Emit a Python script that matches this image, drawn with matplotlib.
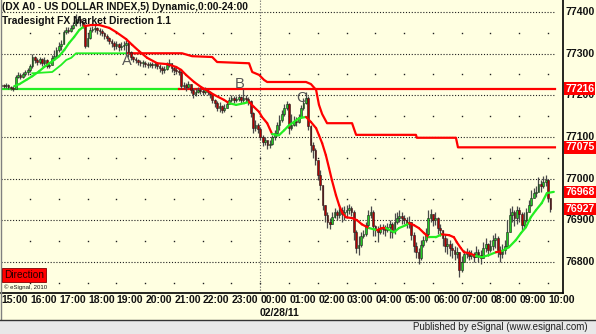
import matplotlib
matplotlib.use("Agg")
import matplotlib.pyplot as plt
import matplotlib.transforms as mtrans
import numpy as np

# ---------------- data (5-minute bars of DX A0 from 15:00) ----------------
first_open = 77222
closes = [
    77225,77222,77225,77220,77217,77215,77244,77249,77244,77251,77256,77261,
    77270,77292,77285,77280,77287,77277,77285,77270,77273,77290,77294,77309,
    77318,77323,77352,77357,77354,77362,77369,77381,77383,77376,77366,77318,
    77338,77357,77359,77362,77357,77354,77350,77342,77338,77330,77326,77318,
    77323,77316,77318,77321,77326,77304,77292,77287,77285,77280,77277,77277,
    77275,77273,77275,77273,77275,77270,77265,77261,77263,77273,77277,77265,
    77261,77258,77256,77222,77225,77220,77227,77213,77203,77208,77213,77210,
    77208,77213,77208,77203,77189,77181,77169,77174,77165,77169,77179,77189,
    77193,77189,77191,77196,77189,77193,77191,77186,77157,77121,77128,77119,
    77100,77088,77092,77080,77083,77100,77109,77128,77140,77155,77169,77179,
    77121,77128,77138,77136,77148,77169,77181,77193,77126,77080,77068,77044,
    77008,76984,76936,76912,76895,76890,76907,76919,76912,76924,76914,76919,
    76924,76929,76919,76871,76833,76840,76862,76866,76888,76912,76919,76886,
    76876,76871,76878,76881,76876,76883,76890,76871,76895,76905,76910,76905,
    76900,76890,76895,76864,76838,76823,76809,76840,76852,76866,76905,76914,
    76900,76905,76881,76876,76857,76838,76842,76833,76828,76818,76823,76780,
    76799,76818,76823,76814,76818,76811,76823,76816,76809,76833,76842,76828,
    76838,76852,76857,76828,76818,76828,76838,76871,76912,76919,76905,76924,
    76914,76888,76900,76919,76936,76953,76965,76967,76987,76982,76992,76996,
    76953,76927]
highs = [
    77229,77227,77229,77227,77222,77222,77249,77256,77253,77256,77261,77265,
    77275,77299,77294,77290,77292,77290,77292,77287,77280,77297,77309,77316,
    77328,77333,77357,77364,77364,77369,77376,77395,77390,77386,77376,77371,
    77350,77364,77366,77369,77364,77362,77359,77352,77347,77340,77335,77330,
    77330,77326,77328,77330,77333,77330,77306,77294,77292,77287,77285,77285,
    77282,77280,77280,77280,77280,77277,77275,77270,77270,77280,77287,77277,
    77270,77268,77265,77258,77232,77229,77234,77227,77217,77217,77220,77217,
    77215,77220,77215,77210,77203,77191,77186,77184,77177,77179,77186,77196,
    77201,77198,77198,77203,77198,77215,77201,77196,77189,77160,77140,77133,
    77124,77104,77100,77092,77092,77104,77116,77136,77152,77165,77179,77186,
    77181,77155,77150,77148,77155,77177,77193,77208,77198,77128,77088,77073,
    77044,77020,76984,76936,76919,76905,76919,76929,76924,76934,76931,76934,
    76936,76939,76934,76924,76876,76862,76871,76876,76895,76924,76934,76924,
    76888,76886,76890,76890,76888,76893,76900,76895,76917,76919,76924,76919,
    76912,76907,76910,76895,76871,76847,76833,76852,76862,76881,76924,76927,
    76914,76919,76907,76890,76876,76866,76857,76852,76845,76838,76835,76823,
    76814,76828,76833,76828,76828,76823,76838,76830,76828,76847,76857,76845,
    76852,76864,76869,76862,76838,76842,76852,76900,76929,76934,76924,76934,
    76931,76919,76919,76929,76948,76972,76977,76982,77004,76996,77006,77008,
    77000,76953]
lows = [
    77217,77217,77217,77215,77213,77210,77215,77241,77239,77241,77246,77249,
    77256,77265,77277,77273,77275,77270,77273,77265,77265,77273,77285,77290,
    77304,77309,77323,77347,77350,77352,77359,77366,77374,77366,77362,77314,
    77316,77335,77352,77352,77347,77345,77342,77335,77330,77323,77316,77309,
    77311,77306,77309,77309,77297,77292,77285,77280,77277,77273,77270,77268,
    77268,77265,77268,77265,77265,77263,77256,77251,77253,77261,77268,77256,
    77253,77251,77249,77215,77215,77210,77217,77205,77193,77198,77205,77203,
    77201,77203,77201,77193,77181,77172,77162,77160,77157,77160,77169,77179,
    77184,77181,77184,77186,77181,77184,77184,77177,77148,77109,77114,77109,
    77092,77078,77080,77071,77073,77080,77092,77102,77116,77136,77150,77165,
    77107,77116,77126,77126,77133,77145,77165,77179,77116,77064,77049,77032,
    76996,76972,76924,76895,76881,76878,76890,76905,76900,76905,76895,76900,
    76905,76914,76910,76852,76821,76816,76835,76857,76862,76883,76905,76862,
    76862,76847,76866,76866,76862,76871,76857,76857,76866,76890,76895,76890,
    76890,76881,76881,76852,76823,76809,76794,76804,76835,76847,76862,76895,
    76886,76888,76866,76862,76838,76823,76818,76814,76809,76804,76809,76763,
    76775,76799,76809,76804,76806,76799,76811,76799,76794,76816,76823,76814,
    76823,76828,76833,76811,76799,76809,76818,76833,76871,76895,76886,76890,
    76895,76876,76881,76895,76919,76934,76953,76955,76967,76967,76977,76982,
    76943,76919]

# Market Direction trailing line (hours after 15:00, price, colour of following segment)
trail_t = [0.45,0.63,0.87,1.08,1.32,1.49,1.67,1.84,2.01,2.19,2.36,2.53,2.71,2.88,3.13,3.40,
           3.75,3.99,4.34,4.55,4.79,5.07,5.42,5.76,6.08,6.25,6.42,6.70,6.94,7.12,7.40,7.74,
           7.92,8.16,8.44,8.61,8.78,8.96,9.06,9.24,9.41,9.65,9.83,10.00,10.17,10.35,10.59,
           10.76,10.94,11.04,11.15,11.28,11.39,11.49,11.63,11.74,11.84,11.98,12.19,12.36,
           12.53,12.78,12.95,13.06,13.23,13.37,13.65,13.82,14.06,14.17,14.34,14.51,14.69,
           14.86,15.10,15.31,15.56,15.73,15.83,15.97,16.08,16.25,16.49,16.70,16.94,17.19,
           17.40,17.64,17.88,18.06,18.23,18.40,18.58,18.78,18.96,19.20]
trail_v = [77222,77227,77237,77246,77258,77268,77277,77285,77294,77309,77326,77340,77357,77366,
           77369,77369,77362,77352,77335,77321,77306,77290,77277,77275,77268,77261,77249,77232,
           77220,77213,77201,77189,77181,77177,77181,77184,77172,77160,77148,77133,77107,77104,
           77116,77128,77136,77145,77148,77136,77121,77104,77085,77056,77025,76996,76960,76936,
           76919,76907,76905,76900,76890,76881,76878,76876,76881,76881,76871,76881,76888,76893,
           76888,76881,76869,76859,76859,76866,76864,76859,76847,76833,76823,76821,76814,76811,
           76816,76823,76826,76835,76852,76869,76883,76907,76924,76941,76965,76968]
trail_c = "ggggggggggggg" + "rrrrrrrrrrrrrrrrrrr" + "ggg" + "rrrrr" + "gggggg" + \
          "rrrrrrrrrrrrrrr" + "gg" + "rr" + "gggg" + "rrrr" + "gg" + "rrrrrrr" + "ggg" + \
          "r" + "ggggggggg" + "r"

# stepped band line
step_t = [1.08,1.77,2.08,2.26,2.43,2.60,4.38,6.28,6.63,7.33,7.50,8.61,8.72,8.96,9.13,9.24,
          10.59,10.76,10.94,11.04,11.15,11.32,12.19,12.33,14.41,14.44,15.80,15.87,19.24]
step_v = [77253,77256,77273,77285,77290,77301,77301,77301,77294,77292,77280,77277,77256,77249,
          77237,77232,77232,77227,77213,77177,77155,77133,77133,77105,77105,77098,77098,77075,77075]
step_switch = 4.38   # green before, red after

level_value = 77216
level_switch = 6.18  # green before, red after
level_end = 19.24

price_ticks = [77400, 77300, 77200, 77100, 77000, 76900, 76800]
dot_levels = [77350, 77250, 77150, 77050, 76950, 76850, 76750]
hour_labels = ["15:00","16:00","17:00","18:00","19:00","20:00","21:00","22:00","23:00",
               "00:00","01:00","02:00","03:00","04:00","05:00","06:00","07:00","08:00",
               "09:00","10:00"]
price_tags = [77216, 77075, 76968, 76927]
notes = [("A", 4.36, 77282), ("B", 8.28, 77228), ("C", 10.45, 77193)]

# ---------------- figure ----------------
W, H = 596, 334
CREAM = "#FFFFE1"
fig = plt.figure(figsize=(W / 100, H / 100), dpi=100, facecolor=CREAM)
FONT = "Liberation Sans"

def fx(x):
    return x / W

def fy(y):
    return 1 - y / H

ax = fig.add_axes([fx(1), fy(293), fx(562), 293 / H])
ax.set_facecolor(CREAM)
ax.set_xlim(-0.01, 19.52)
ax.set_ylim(76725, 77429)
for s in ["top", "left"]:
    ax.spines[s].set_visible(False)
ax.spines["bottom"].set_color("black")
ax.spines["right"].set_color("black")
ax.spines["bottom"].set_linewidth(1.2)
ax.spines["right"].set_linewidth(1.2)
ax.set_xticks([])
ax.set_yticks([])

# grid
ax.hlines(price_ticks, -0.01, level_end, colors="#202020", linestyles=(0, (1, 1.6)), lw=0.8, zorder=1)
hrs = np.arange(1, 20)
for lv in dot_levels:
    ax.plot(hrs, [lv] * len(hrs), "s", ms=1.0, color="#202020", zorder=1, mew=0)
ax.vlines([9], 76725, 77429, colors="#606060", linestyles=(0, (1, 1.6)), lw=0.8, zorder=1)

# level line
ax.plot([-0.01, level_switch], [level_value, level_value], color="#22EE22", lw=1.6, zorder=3)
ax.plot([level_switch, level_end], [level_value, level_value], color="#FF0000", lw=1.6, zorder=3)

# step line
st = np.array(step_t); sv = np.array(step_v)
gmask = st <= step_switch + 1e-9
rmask = st >= step_switch - 1e-9
ax.plot(st[gmask], sv[gmask], color="#22EE22", lw=1.3, zorder=3)
ax.plot(st[rmask], sv[rmask], color="#FF0000", lw=1.6, zorder=3)

# candles
c = np.array(closes, float)
o = np.concatenate([[first_open], c[:-1]])
hi = np.maximum(np.array(highs, float), np.maximum(o, c))
lo = np.minimum(np.array(lows, float), np.minimum(o, c))
t = np.arange(len(c)) / 12.0
ax.vlines(t, lo, hi, colors="#4a4a4a", lw=0.9, zorder=4)
up = c >= o
bot = np.minimum(o, c)
hgt = np.maximum(np.abs(c - o), 2.0)
ax.bar(t[up], hgt[up], bottom=bot[up], width=0.06, color="#22CC22", edgecolor="#202020", lw=0.4, zorder=5)
ax.bar(t[~up], hgt[~up], bottom=bot[~up], width=0.06, color="#B00000", edgecolor="#202020", lw=0.4, zorder=5)

# trail line
for i in range(len(trail_t) - 1):
    col = "#22EE22" if trail_c[i] == "g" else "#FF0000"
    ax.plot(trail_t[i:i + 2], trail_v[i:i + 2], color=col, lw=1.6, zorder=6, solid_capstyle="round")

# A B C notes
for txt, xx, yy in notes:
    ax.text(xx, yy, txt, fontsize=10.5, color="#555555", ha="center", va="center", family=FONT, zorder=7)

# price axis labels
tr = mtrans.blended_transform_factory(ax.transAxes, ax.transData)
xoff = 1 + 2 / 562
for p in price_ticks:
    ax.text(xoff, p, str(p), transform=tr, fontsize=7.6, color="#111111", ha="left", va="center",
            family=FONT, fontweight="bold", clip_on=False, zorder=8)
for p in price_tags:
    ax.text(xoff, p, str(p), transform=tr, fontsize=7.6, color="white", ha="left", va="center",
            family=FONT, fontweight="bold", clip_on=False, zorder=9,
            bbox=dict(boxstyle="square,pad=0.12", fc="#FF0000", ec="none"))

# time labels
for i, lab in enumerate(hour_labels):
    xp = 1 + (i + 0.01) / 19.53 * 562 + 0.3
    fig.text(fx(xp), fy(300), lab, fontsize=7.5, fontweight="bold", family=FONT,
             ha="left", va="center", color="#111111")
fig.text(fx(260), fy(313), "02/28/11", fontsize=7.5, fontweight="bold", family=FONT,
         ha="left", va="center", color="#111111")

# title texts
fig.text(fx(2), fy(7), "(DX A0 - US DOLLAR INDEX,5) Dynamic,0:00-24:00", fontsize=7.4,
         fontweight="bold", family=FONT, ha="left", va="center", color="#111111")
fig.text(fx(2), fy(21), "Tradesight FX Market Direction 1.1", fontsize=7.4,
         fontweight="bold", family=FONT, ha="left", va="center", color="#111111")

# Direction box and copyright
fig.text(fx(4), fy(275), "Direction", fontsize=7.3, family=FONT, ha="left", va="center",
         color="#220000", bbox=dict(boxstyle="square,pad=0.18", fc="#FF0000", ec="#800000", lw=0.6))
fig.text(fx(4), fy(287.5), "\u00a9 eSignal, 2010", fontsize=4.3, family=FONT, ha="left",
         va="center", color="#111111")

# left border and bottom status bar
fig.add_artist(plt.Line2D([fx(1), fx(1)], [fy(0), fy(319)], color="#808080", lw=1.0))
fig.add_artist(plt.Rectangle((0, 0), 1, fy(320), transform=fig.transFigure,
                             fc="#E8E8E8", ec="none"))
fig.add_artist(plt.Line2D([0, 1], [fy(319.5), fy(319.5)], color="#333333", lw=1.0))
fig.text(fx(588), fy(327), "Published by eSignal (www.esignal.com)", fontsize=7, family=FONT,
         ha="right", va="center", color="#222222")

fig.savefig("out.png", dpi=100, facecolor=CREAM)
